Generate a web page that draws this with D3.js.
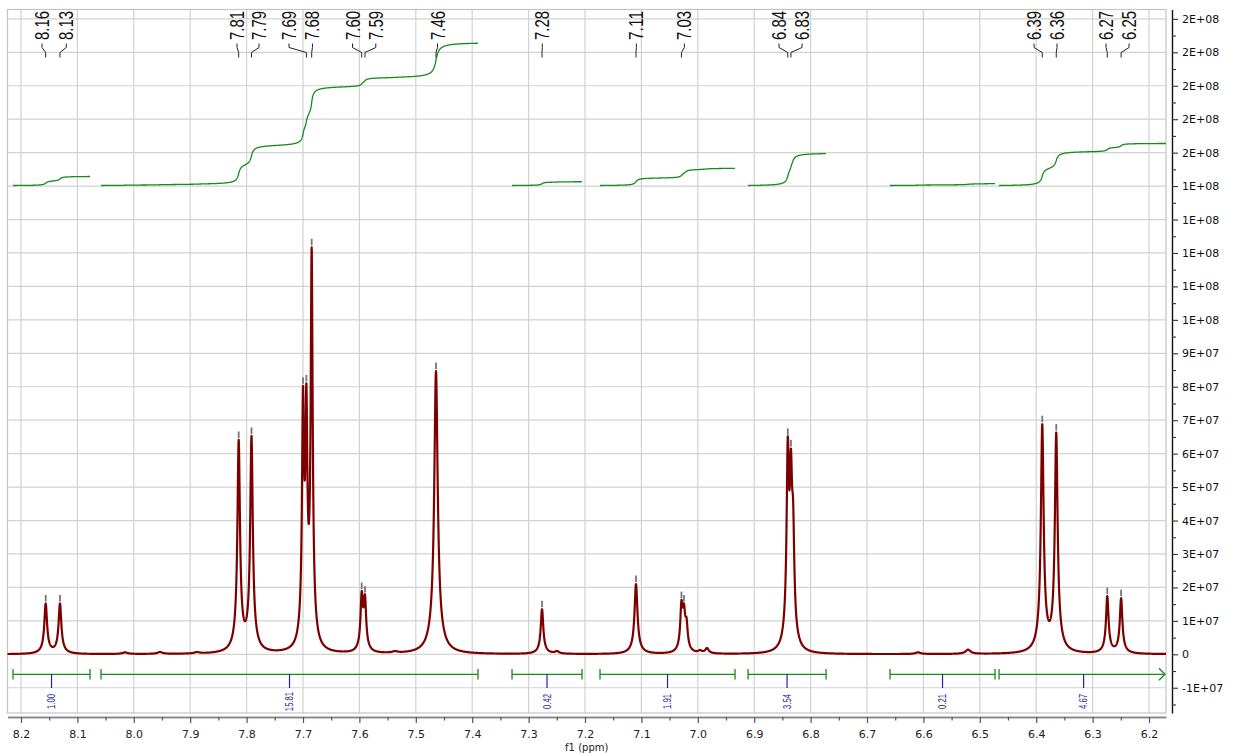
<!DOCTYPE html>
<html>
<head>
<meta charset="utf-8">
<script src="https://cdn.jsdelivr.net/npm/d3@7"></script>
<style>
  html, body { margin: 0; padding: 0; background: #ffffff; }
  svg { display: block; }
</style>
</head>
<body>
<svg id="chart" width="1238" height="753"></svg>
<script>
// ---- 1H spectrum: resolved lines -------------------------------------------
// chemical shift (ppm)
const peakPpm  = [8.1562, 8.1309, 7.8140, 7.7913, 7.7000, 7.6940, 7.6846, 7.5959, 7.5901,
                  7.4642, 7.4400, 7.5370, 7.2762, 7.2496, 7.1096, 7.0290, 7.0245, 7.0200,
                  6.9960, 6.9837, 6.8405, 6.8349, 6.8310, 6.6096, 6.5209, 6.3893, 6.3645,
                  6.2740, 6.2495, 8.0156, 7.9536, 7.8880];
// observed line height (x 1e7)
const peakTop  = [1.52, 1.52, 6.41, 6.53, 8.03, 8.10, 12.17, 1.89, 1.79,
                  8.47, 0.30, 0.10, 1.35, 0.10, 2.10, 1.62, 1.52, 1.10,
                  0.13, 0.19, 6.50, 6.15, 4.60, 0.06, 0.14, 6.88, 6.63,
                  1.74, 1.68, 0.06, 0.07, 0.07];
// half width at half height (ppm)
const peakHw   = [0.0028, 0.0028, 0.0026, 0.0026, 0.0020, 0.0020, 0.0020, 0.0024, 0.0024,
                  0.0035, 0.0060, 0.0050, 0.0026, 0.0040, 0.0030, 0.0024, 0.0024, 0.0024,
                  0.0035, 0.0035, 0.0024, 0.0024, 0.0024, 0.0050, 0.0050, 0.0028, 0.0028,
                  0.0026, 0.0026, 0.0050, 0.0050, 0.0050];
// peak-picked lines (1 = marked and labelled, 2 = marked only)
const peakPick = [1, 1, 1, 1, 2, 1, 1, 1, 1,
                  1, 0, 0, 1, 0, 1, 1, 2, 0,
                  0, 0, 1, 1, 0, 0, 0, 1, 1,
                  1, 1, 0, 0, 0];
// where each shift label sits along the axis (ppm), in order of the labelled lines
const labelAt  = [8.1628, 8.1197, 7.8170, 7.7780, 7.7248, 7.6832, 7.6122, 7.5709, 7.4615,
                  7.2757, 7.1089, 7.0238, 6.8560, 6.8152, 6.4039, 6.3631, 6.2762, 6.2355];

// ---- integration regions ----------------------------------------------------
const intFrom  = [8.2141, 8.0581, 7.3294, 7.1734, 6.9109, 6.6592, 6.4659];
const intTo    = [8.0776, 7.3897, 7.2053, 6.9340, 6.7726, 6.4730, 6.1660];
const intValue = [1.00, 15.81, 0.42, 1.91, 3.54, 0.21, 4.67];

// ---- axes -------------------------------------------------------------------
const ppmTicks   = d3.range(0, 21).map(i => +(8.2 - i * 0.1).toFixed(1));
const ppmMinor   = d3.range(0, 20).map(i => +(8.15 - i * 0.1).toFixed(2));
const intensTicks = d3.range(-1, 20).map(i => i * 1e7);
const intensMinor = d3.range(-2, 19).map(i => (i + 0.5) * 1e7);
const xTitle = "f1 (ppm)";

// ---- layout -----------------------------------------------------------------
const plot = { left: 7.5, right: 1166, top: 9.5, bottom: 713 };
const xAxisY = 717;
const yAxisX = 1172;

const x = d3.scaleLinear().domain([8.2239, 6.1699]).range([plot.left, plot.right]);
const y = d3.scaleLinear().domain([-1.755e7, 19.28e7]).range([plot.bottom, plot.top]);
// integral trace scale (units of the integral values)
const yInt = d3.scaleLinear().domain([0, 1]).range([185.5, 176.5]);

const svg = d3.select("#chart");

// ---- line shape and amplitudes ------------------------------------------------
const BROAD = 0.10;
function shape(d, w) {
  const a = d / w, b = d / (3 * w);
  return (1 - BROAD) / (1 + a * a) + BROAD / (1 + b * b);
}
// amplitudes solved so that the summed trace passes through each observed top
const amp = peakTop.slice();
function sumAt(p, amps) {
  let s = 0;
  for (let j = 0; j < peakPpm.length; j++) s += amps[j] * shape(p - peakPpm[j], peakHw[j]);
  return s;
}
for (let it = 0; it < 300; it++) {
  const cur = peakPpm.map(p => sumAt(p, amp));
  for (let i = 0; i < amp.length; i++) amp[i] += 0.6 * (peakTop[i] - cur[i]);
}
const spec = p => sumAt(p, amp) * 1e7;

// sampled trace
const step = 0.0002;
const pStart = 8.236, pEnd = 6.095;
const nS = Math.round((pStart - pEnd) / step);
let ppmSamples = d3.range(0, nS + 1).map(k => pStart - k * step).concat(peakPpm);
ppmSamples.sort((a, b) => b - a);
const trace = ppmSamples.map(p => ({ p, v: spec(p) }));

// ---- clip ---------------------------------------------------------------------
svg.append("defs").append("clipPath").attr("id", "plotClip")
  .append("rect")
  .attr("x", plot.left).attr("y", plot.top)
  .attr("width", plot.right - plot.left).attr("height", plot.bottom - plot.top);

// ---- grid ---------------------------------------------------------------------
const grid = svg.append("g").attr("stroke", "#d2d2d2").attr("stroke-width", 1.2);
grid.selectAll("line.h").data(intensTicks).join("line")
  .attr("x1", plot.left).attr("x2", plot.right)
  .attr("y1", d => y(d)).attr("y2", d => y(d));
grid.selectAll("line.v").data(ppmTicks).join("line")
  .attr("y1", plot.top).attr("y2", plot.bottom)
  .attr("x1", d => x(d)).attr("x2", d => x(d));
svg.append("rect")
  .attr("x", plot.left).attr("y", plot.top)
  .attr("width", plot.right - plot.left).attr("height", plot.bottom - plot.top)
  .attr("fill", "none").attr("stroke", "#c4c4c4").attr("stroke-width", 1.2);

// ---- spectrum -------------------------------------------------------------------
const specG = svg.append("g").attr("clip-path", "url(#plotClip)");
specG.append("path")
  .datum(trace)
  .attr("fill", "none")
  .attr("stroke", "#7d0000")
  .attr("stroke-width", 2.2)
  .attr("stroke-linejoin", "round")
  .attr("d", d3.line().x(d => x(d.p)).y(d => y(d.v)));

// ---- integral traces ------------------------------------------------------------
const green = "#178a17";
intFrom.forEach((from, k) => {
  const to = intTo[k];
  const seg = trace.filter(d => d.p <= from && d.p >= to);
  let cum = 0;
  const pts = seg.map((d, i) => {
    if (i > 0) cum += (d.v + seg[i - 1].v) / 2;
    return { p: d.p, c: cum };
  });
  const total = cum;
  specG.append("path")
    .datum(pts)
    .attr("fill", "none")
    .attr("stroke", green)
    .attr("stroke-width", 1.3)
    .attr("d", d3.line().x(d => x(d.p)).y(d => yInt(d.c / total * intValue[k])));
});

// ---- peak markers -----------------------------------------------------------------
const picked = peakPpm.map((p, i) => ({ p, top: peakTop[i], pick: peakPick[i] })).filter(d => d.pick > 0);
svg.append("g").selectAll("line").data(picked).join("line")
  .attr("x1", d => x(d.p)).attr("x2", d => x(d.p))
  .attr("y1", d => y(spec(d.p)) - 2).attr("y2", d => y(spec(d.p)) - 8.5)
  .attr("stroke", "#767676").attr("stroke-width", 1.8);

// ---- shift labels -----------------------------------------------------------------
const labelled = picked.filter(d => d.pick === 1).map((d, i) => ({ p: d.p, at: labelAt[i] }));
const labG = svg.append("g");
labG.selectAll("path").data(labelled).join("path")
  .attr("fill", "none").attr("stroke", "#222").attr("stroke-width", 1)
  .attr("d", d => `M${x(d.at)},43.5 L${x(d.at)},47.5 L${x(d.p)},52.5 L${x(d.p)},57.5`);
labG.selectAll("text").data(labelled).join("text")
  .attr("transform", d => `translate(${x(d.at)},40) rotate(-90)`)
  .attr("text-anchor", "start")
  .attr("dominant-baseline", "central")
  .attr("font-family", "'Liberation Sans', Arial, sans-serif")
  .attr("font-size", 20)
  .attr("fill", "#111")
  .attr("textLength", 29)
  .attr("lengthAdjust", "spacingAndGlyphs")
  .text(d => d.p.toFixed(2));

// ---- integration bars ---------------------------------------------------------------
const barY = 674.3;
const bars = intFrom.map((f, k) => ({ from: f, to: intTo[k], v: intValue[k], mid: (f + intTo[k]) / 2 }));
const barG = svg.append("g");
const barClipG = barG.append("g").attr("clip-path", "url(#plotClip)");
barClipG.selectAll("line.bar").data(bars).join("line")
  .attr("x1", d => x(d.from)).attr("x2", d => Math.min(x(d.to), plot.right - 1))
  .attr("y1", barY).attr("y2", barY)
  .attr("stroke", green).attr("stroke-width", 1.3);
const ends = [];
bars.forEach(d => {
  ends.push(d.from);
  if (x(d.to) < plot.right) ends.push(d.to);
});
barClipG.selectAll("line.end").data(ends).join("line")
  .attr("x1", d => x(d)).attr("x2", d => x(d))
  .attr("y1", barY - 5.3).attr("y2", barY + 5.3)
  .attr("stroke", green).attr("stroke-width", 1.3);
// continuation arrow where a region runs past the plotted range
bars.filter(d => x(d.to) >= plot.right).forEach(() => {
  barG.append("path")
    .attr("d", `M${plot.right - 7},${barY - 6} L${plot.right - 1},${barY} L${plot.right - 7},${barY + 6}`)
    .attr("fill", "none").attr("stroke", green).attr("stroke-width", 1.3);
});
const blue = "#23239c";
barG.selectAll("line.mid").data(bars).join("line")
  .attr("x1", d => x(d.mid)).attr("x2", d => x(d.mid))
  .attr("y1", barY).attr("y2", 688)
  .attr("stroke", blue).attr("stroke-width", 1.2);
barG.selectAll("text").data(bars).join("text")
  .attr("transform", d => `translate(${x(d.mid)},701.5) rotate(-90)`)
  .attr("text-anchor", "middle")
  .attr("dominant-baseline", "central")
  .attr("font-family", "'Liberation Sans', Arial, sans-serif")
  .attr("font-size", 10)
  .attr("fill", blue)
  .text(d => d.v.toFixed(2))
  .each(function () {
    const L = this.getComputedTextLength();
    d3.select(this).attr("textLength", L * 0.77).attr("lengthAdjust", "spacingAndGlyphs");
  });

// ---- x axis ---------------------------------------------------------------------------
const xAxisG = svg.append("g").attr("transform", `translate(0,${xAxisY})`)
  .call(d3.axisBottom(x).tickValues(ppmTicks).tickFormat(d3.format(".1f"))
    .tickSize(6).tickSizeOuter(0).tickPadding(7));
xAxisG.select(".domain").attr("stroke", "#8c8c8c").attr("stroke-width", 2);
xAxisG.selectAll(".tick line").attr("stroke", "#555").attr("stroke-width", 1.2);
xAxisG.selectAll(".tick text")
  .attr("font-family", "'DejaVu Sans', Verdana, sans-serif")
  .attr("font-size", 11).attr("fill", "#222");
const xMinorG = svg.append("g").attr("transform", `translate(0,${xAxisY})`)
  .call(d3.axisBottom(x).tickValues(ppmMinor).tickFormat("").tickSize(3.5).tickSizeOuter(0));
xMinorG.select(".domain").remove();
xMinorG.selectAll(".tick line").attr("stroke", "#555").attr("stroke-width", 1.2);

svg.append("text")
  .attr("x", (plot.left + plot.right) / 2).attr("y", 751)
  .attr("text-anchor", "middle")
  .attr("font-family", "'DejaVu Sans', Verdana, sans-serif")
  .attr("font-size", 10).attr("fill", "#222")
  .text(xTitle);

// ---- intensity axis (right) ---------------------------------------------------------------
function fmtE(v) {
  if (v === 0) return "0";
  const s = v.toExponential(0);
  const [m, e] = s.split("e");
  const sign = e[0] === "-" ? "-" : "+";
  const ex = Math.abs(parseInt(e, 10)).toString().padStart(2, "0");
  return `${m}E${sign}${ex}`;
}
const yAxisG = svg.append("g").attr("transform", `translate(${yAxisX},0)`)
  .call(d3.axisRight(y).tickValues(intensTicks).tickFormat(fmtE)
    .tickSize(6).tickSizeOuter(0).tickPadding(4));
yAxisG.select(".domain").attr("stroke", "#111").attr("stroke-width", 1.4);
yAxisG.selectAll(".tick line").attr("stroke", "#333").attr("stroke-width", 1.1);
yAxisG.selectAll(".tick text")
  .attr("font-family", "'DejaVu Sans', Verdana, sans-serif")
  .attr("font-size", 11).attr("fill", "#111");
const yMinorG = svg.append("g").attr("transform", `translate(${yAxisX},0)`)
  .call(d3.axisRight(y).tickValues(intensMinor.filter(v => y(v) > plot.top))
    .tickFormat("").tickSize(4).tickSizeOuter(0));
yMinorG.select(".domain").remove();
yMinorG.selectAll(".tick line").attr("stroke", "#333").attr("stroke-width", 1.1);
</script>
</body>
</html>
